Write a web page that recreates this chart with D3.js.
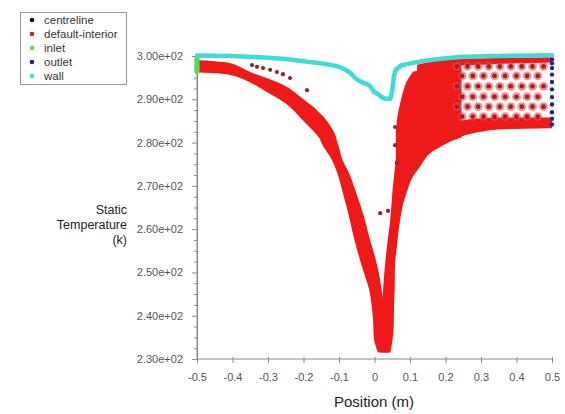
<!DOCTYPE html>
<html>
<head>
<meta charset="utf-8">
<script src="https://cdn.jsdelivr.net/npm/d3@7"></script>
<style>
  body { margin: 0; background: #fff; }
  text { font-family: "Liberation Sans", Arial, sans-serif; }
</style>
</head>
<body>
<div id="chart"></div>
<script>

// ---- data ----
var xTicks = [-0.5, -0.4, -0.3, -0.2, -0.1, 0, 0.1, 0.2, 0.3, 0.4, 0.5];
var xTickLabels = ["-0.5", "-0.4", "-0.3", "-0.2", "-0.1", "0", "0.1", "0.2", "0.3", "0.4", "0.5"];
var yTicks = [230, 240, 250, 260, 270, 280, 290, 300];
var yTickLabels = ["2.30e+02", "2.40e+02", "2.50e+02", "2.60e+02", "2.70e+02", "2.80e+02", "2.90e+02", "3.00e+02"];
var yMinor = [232.5, 235, 237.5, 242.5, 245, 247.5, 252.5, 255, 257.5, 262.5, 265, 267.5,
              272.5, 275, 277.5, 282.5, 285, 287.5, 292.5, 295, 297.5];

var seriesNames = ["centreline", "default-interior", "inlet", "outlet", "wall"];

// wall
var wallPos  = [-0.5, -0.4, -0.3, -0.25, -0.2, -0.15, -0.125, -0.1, -0.085, -0.07, -0.05, -0.035, -0.015, 0.0, 0.01, 0.02, 0.03, 0.045, 0.05, 0.055, 0.06, 0.075, 0.1, 0.15, 0.2, 0.25, 0.35, 0.5];
var wallTemp = [300.1, 300.0, 299.6, 299.3, 298.8, 298.3, 298.0, 297.5, 297.0, 296.2, 294.6, 293.9, 293.3, 291.6, 291.2, 290.5, 290.1, 290.1, 292.0, 295.5, 296.8, 297.8, 298.3, 299.0, 299.5, 299.8, 300.0, 300.2];

// default-interior : upper-left branch (by position)
var leftPos = [-0.5, -0.45, -0.4, -0.35, -0.3, -0.25, -0.2, -0.15, -0.13, -0.11];
var leftHi  = [299.0, 298.8, 298.2, 296.3, 294.8, 293.0, 290.0, 286.5, 284.5, 281.5];
var leftLo  = [296.2, 296.0, 295.5, 293.9, 291.5, 289.0, 285.0, 280.5, 278.0, 275.0];

// default-interior : steep left strand down to the bottom (by temperature)
var steepTemp  = [286, 283, 280, 276, 273, 268, 263, 258, 254, 250, 246, 240, 234, 231.5];
var steepLeft  = [-0.17, -0.16, -0.15, -0.12, -0.105, -0.088, -0.072, -0.058, -0.045, -0.03, -0.015, -0.005, 0.0, 0.01];
var steepRight = [-0.145, -0.118, -0.104, -0.09, -0.072, -0.05, -0.03, -0.014, 0.0, 0.012, 0.02, 0.03, 0.035, 0.04];

// default-interior : rising strand from the bottom
var riseTemp  = [231.5, 236, 242, 247, 252, 256, 262, 270, 278, 285, 290, 294, 296.5];
var riseLeft  = [0.02, 0.018, 0.022, 0.025, 0.03, 0.035, 0.044, 0.052, 0.062, 0.063, 0.075, 0.09, 0.11];
var riseRight = [0.045, 0.053, 0.055, 0.057, 0.058, 0.063, 0.072, 0.092, 0.12, 0.13, 0.13, 0.135, 0.14];

// default-interior : solid part of the fan
var fanPos = [0.06, 0.085, 0.1, 0.128, 0.15, 0.185, 0.22, 0.245];
var fanLo  = [262, 267, 270.7, 274.4, 277, 279, 280.5, 281.2];
var fanHi  = [283, 290, 294, 297, 297.6, 298.2, 298.5, 298.6];

// default-interior : bottom and top bands of the fan
var bandPos = [0.2, 0.26, 0.3, 0.35, 0.42, 0.5];
var bandLo  = [279.8, 281.8, 282.5, 283.0, 283.2, 283.3];
var bandHi  = [284.5, 285.3, 285.6, 285.8, 285.8, 285.8];
var topPos = [0.12, 0.2, 0.3, 0.4, 0.5];
var topLo  = [296.5, 297.6, 298.0, 298.3, 298.5];
var topHi  = [298.0, 299.2, 299.5, 299.6, 299.7];

// default-interior : dot rows inside the fan
var gridTemp = [297.6, 295.4, 293.0, 290.6, 288.3, 286.0];
var gridColsA = [0.232, 0.262, 0.292, 0.322, 0.353, 0.384, 0.415, 0.445, 0.476];
var gridColsB = [0.247, 0.277, 0.307, 0.338, 0.368, 0.4, 0.43, 0.46];

// default-interior : loose dots
var loosePos  = [-0.345, -0.331, -0.314, -0.294, -0.275, -0.258, -0.238, -0.19, 0.016, 0.038, 0.058, 0.063, 0.058];
var looseTemp = [297.9, 297.5, 297.2, 296.8, 296.3, 295.8, 294.9, 292.1, 263.7, 264.2, 279.4, 275.3, 283.6];

// inlet and outlet
var inletTemp  = [296.4, 296.9, 297.4, 297.9, 298.4, 298.9, 299.4];
var outletTemp = [299.2, 298.3, 297.2, 295.7, 294.0, 292.3, 290.5, 288.8, 287.0, 285.5, 284.2];

// ---- drawing ----
var W = 565, H = 414;
var red = "#ee1a1a", dotRed = "#9a2229";
var colors = {"centreline": "#111111", "default-interior": "#c0282c", "inlet": "#5ad95a", "outlet": "#2a1f8c", "wall": "#3fdcd6"};

var svg = d3.select("#chart").append("svg")
    .attr("width", W).attr("height", H);

var x = d3.scaleLinear().domain([-0.5, 0.5]).range([197, 552]);
var y = d3.scaleLinear().domain([230, 300]).range([359, 56]);

// axes
var yAxis = svg.append("g")
    .attr("transform", "translate(197,0)")
    .call(d3.axisLeft(y).tickValues(yTicks).tickSize(5).tickPadding(9)
      .tickFormat(function(d, i) { return yTickLabels[i]; }));
svg.append("g")
    .attr("transform", "translate(197,0)")
    .call(d3.axisLeft(y).tickValues(yMinor).tickSize(3).tickFormat(""));
var xAxis = svg.append("g")
    .attr("transform", "translate(0,359)")
    .call(d3.axisBottom(x).tickValues(xTicks).tickSize(4).tickPadding(10)
      .tickFormat(function(d, i) { return xTickLabels[i]; }));
// small tick stubs above the x axis too
xAxis.selectAll(".tick").append("line").attr("y1", 0).attr("y2", -2).attr("stroke", "#8a8a8a");
svg.selectAll(".domain").attr("stroke", "#8a8a8a");
svg.selectAll(".tick line").attr("stroke", "#8a8a8a");
svg.selectAll(".tick text").attr("fill", "#555").style("font-size", "11px")
    .style("font-family", "'Liberation Sans', Arial, sans-serif");
yAxis.select(".domain").attr("d", "M0," + y(300) + "V" + y(230));
xAxis.select(".domain").attr("d", "M" + x(-0.5) + ",0H" + x(0.5));

// axis titles
var yTitle = ["Static", "Temperature", "(k)"];
svg.append("g").selectAll("text").data(yTitle).enter().append("text")
    .attr("x", 127).attr("y", function(d, i) { return 214 + i * 15; })
    .attr("text-anchor", "end").attr("fill", "#222")
    .style("font-size", "12.5px").text(function(d) { return d; });
svg.append("text")
    .attr("x", 374).attr("y", 407).attr("text-anchor", "middle")
    .attr("fill", "#222").style("font-size", "15px").text("Position (m)");

// default-interior areas
var plot = svg.append("g");
function byPos(pos, lo, hi) {
  return d3.area().x(function(d, i) { return x(pos[i]); })
    .y0(function(d, i) { return y(lo[i]); })
    .y1(function(d, i) { return y(hi[i]); })
    .curve(d3.curveMonotoneX)(pos);
}
function byTemp(t, l, r) {
  return d3.area().y(function(d, i) { return y(t[i]); })
    .x0(function(d, i) { return x(l[i]); })
    .x1(function(d, i) { return x(r[i]); })
    .curve(d3.curveCatmullRom)(t);
}
// pale backing behind the dot rows
plot.append("path").attr("d", byPos(bandPos, bandHi, topLo.slice(1).concat([298.5]))).attr("fill", "#fbd6d6");
plot.append("path").attr("d", byPos(leftPos, leftLo, leftHi)).attr("fill", red);
plot.append("path").attr("d", byTemp(steepTemp, steepLeft, steepRight)).attr("fill", red);
plot.append("path").attr("d", byTemp(riseTemp, riseLeft, riseRight)).attr("fill", red);
plot.append("path").attr("d", byPos(fanPos, fanLo, fanHi)).attr("fill", red);
plot.append("path").attr("d", byPos(bandPos, bandLo, bandHi)).attr("fill", red);
plot.append("path").attr("d", byPos(topPos, topLo, topHi)).attr("fill", red);

// dot rows in the fan
var gridPts = [];
gridTemp.forEach(function(t, i) {
  (i % 2 === 0 ? gridColsA : gridColsB).forEach(function(p) { gridPts.push([p, t]); });
});
plot.append("g").selectAll("circle").data(gridPts).enter().append("circle")
    .attr("cx", function(d) { return x(d[0]); }).attr("cy", function(d) { return y(d[1]); })
    .attr("r", 4.4).attr("fill", "#f04444").attr("opacity", 0.6);
plot.append("g").selectAll("circle").data(gridPts).enter().append("circle")
    .attr("cx", function(d) { return x(d[0]); }).attr("cy", function(d) { return y(d[1]); })
    .attr("r", 2.3).attr("fill", dotRed);

// loose dots
plot.append("g").selectAll("circle").data(loosePos).enter().append("circle")
    .attr("cx", function(d) { return x(d); }).attr("cy", function(d, i) { return y(looseTemp[i]); })
    .attr("r", 2.1).attr("fill", dotRed);

// inlet
plot.append("g").selectAll("circle").data(inletTemp).enter().append("circle")
    .attr("cx", x(-0.5)).attr("cy", function(d) { return y(d); })
    .attr("r", 2.6).attr("fill", colors["inlet"]);

// outlet
plot.append("g").selectAll("circle").data(outletTemp).enter().append("circle")
    .attr("cx", x(0.5)).attr("cy", function(d) { return y(d); })
    .attr("r", 2.2).attr("fill", colors["outlet"]);

// wall
plot.append("path")
    .datum(wallPos)
    .attr("fill", "none").attr("stroke", colors["wall"]).attr("stroke-width", 4.5)
    .attr("stroke-linejoin", "round").attr("stroke-linecap", "round")
    .attr("d", d3.line().x(function(d) { return x(d); })
      .y(function(d, i) { return y(wallTemp[i]); }));

// legend
var legend = svg.append("g");
legend.append("rect").attr("x", 20.5).attr("y", 12.5).attr("width", 106).attr("height", 72)
    .attr("fill", "#fff").attr("stroke", "#999");
var rows = legend.selectAll("g.row").data(seriesNames).enter().append("g")
    .attr("transform", function(d, i) { return "translate(0," + (20 + i * 14) + ")"; });
rows.append("circle").attr("cx", 32).attr("cy", 0).attr("r", 2.3)
    .attr("fill", function(d) { return colors[d]; });
rows.append("text").attr("x", 44).attr("y", 4).attr("fill", "#333")
    .style("font-size", "11.5px").text(function(d) { return d; });

</script>
</body>
</html>
